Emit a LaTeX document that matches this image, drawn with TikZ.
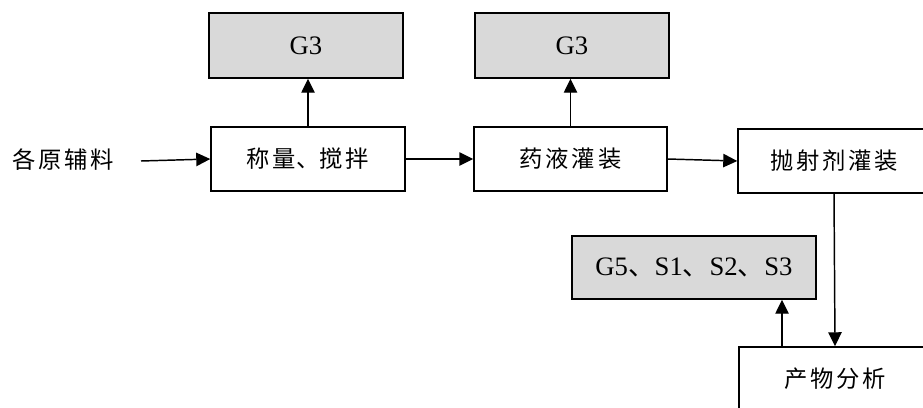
\documentclass[tikz,border=0pt]{standalone}
\usepackage{fontspec}
\setmainfont{Liberation Serif}
\newfontfamily\cjk[LetterSpace=12]{Noto Sans CJK SC}
\newfontfamily\cjkp{Noto Sans CJK SC}
\usetikzlibrary{arrows.meta}
\begin{document}
\begin{tikzpicture}[x=0.75pt,y=-0.75pt,
  box/.style={draw=black,line width=1.1pt,fill=white,inner sep=0pt,font=\fontsize{17.5}{20}\selectfont\cjk},
  gbox/.style={draw=black,line width=1.1pt,fill=gray!30,inner sep=0pt,font=\fontsize{20}{22}\selectfont},
  arr/.style={line width=1.1pt,-{Triangle[length=10.5pt,width=10pt]}}]
\fill[white] (0,0) rectangle (923,407);
\useasboundingbox (0,0) rectangle (923,407);
\node[font=\fontsize{17.5}{20}\selectfont\cjk] (src) at (63,160) {各原辅料};
\node[box,minimum width=145.5pt,minimum height=48pt] (b1) at (308,159) {称量{\cjkp 、}搅拌};
\node[gbox,minimum width=145.5pt,minimum height=48.75pt] (g1) at (306,45.5) {G3};
\node[box,minimum width=144.75pt,minimum height=48pt] (b2) at (570.5,159) {药液灌装};
\node[gbox,minimum width=145.5pt,minimum height=48.75pt] (g2) at (572,45.5) {G3};
\node[box,minimum width=144pt,minimum height=48pt] (b3) at (834,161) {抛射剂灌装};
\node[gbox,minimum width=183pt,minimum height=47.25pt] (g5) at (694,267.5) {G5{\cjkp 、}S1{\cjkp 、}S2{\cjkp 、}S3};
\node[box,minimum width=144pt,minimum height=48pt] (b4) at (835,379) {产物分析};
\coordinate (in) at (141,161);
\coordinate (p) at (782,347);
\draw[arr] (in) -- (b1.west);
\draw[arr] (b1.north) -- (b1.north |- g1.south);
\draw[arr] (b1.east) -- (b2.west);
\draw[arr] (b2.north) -- (b2.north |- g2.south);
\draw[arr] (b2.east) -- (b3.west);
\draw[arr] (b3.south) -- (b4.north);
\draw[arr] (p) -- (p |- g5.south);
\end{tikzpicture}
\end{document}
